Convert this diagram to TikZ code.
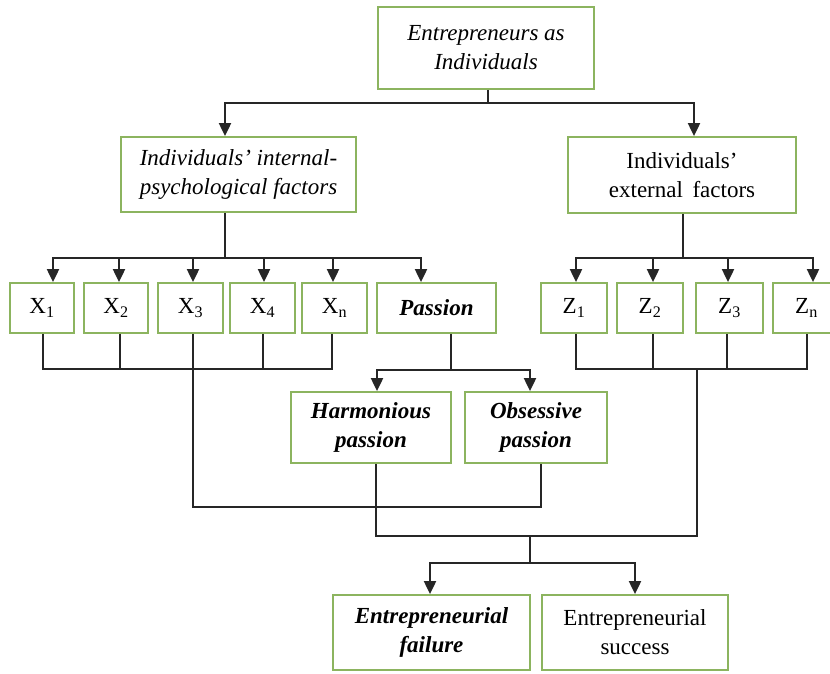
\documentclass[tikz,border=0pt]{standalone}
\usepackage{fontspec}
\setmainfont{Liberation Serif}
\usetikzlibrary{arrows.meta}
\definecolor{boxgreen}{RGB}{140,180,95}
\newcommand\boxfont{\fontsize{23}{29}\selectfont}
\tikzset{
  box/.style={draw=boxgreen,line width=1.8pt,fill=white,inner sep=0pt,align=center,font=\boxfont},
  itbox/.style={box,font=\boxfont\itshape},
  bibox/.style={box,font=\boxfont\bfseries\itshape},
  link/.style={line width=2pt,draw=black!85},
  arr/.style={link,-{Triangle[length=13pt,width=12pt]}}
}
\begin{document}
\begin{tikzpicture}[x=1pt,y=-1pt]
\clip (0,0) rectangle (830,673);
\node[itbox,minimum width=216pt,minimum height=82pt] (top) at (486,48) {Entrepreneurs as\\Individuals};
\node[itbox,minimum width=235pt,minimum height=75pt] (int) at (238.5,174.5) {Individuals’ internal-\\psychological factors};
\node[box,minimum width=228pt,minimum height=76pt] (ext) at (682,175) {Individuals’\\external\, factors};
\node[box,minimum width=64pt,minimum height=50pt] (X1) at (42,308) {X\textsubscript{1}};
\node[box,minimum width=64pt,minimum height=50pt] (X2) at (116,308) {X\textsubscript{2}};
\node[box,minimum width=65pt,minimum height=50pt] (X3) at (190.5,308) {X\textsubscript{3}};
\node[box,minimum width=65pt,minimum height=50pt] (X4) at (262.5,308) {X\textsubscript{4}};
\node[box,minimum width=65pt,minimum height=50pt] (Xn) at (334.5,308) {X\textsubscript{n}};
\node[bibox,minimum width=119pt,minimum height=50pt] (pas) at (436.5,308) {Passion};
\node[box,minimum width=66pt,minimum height=50pt] (Z1) at (574,308) {Z\textsubscript{1}};
\node[box,minimum width=66pt,minimum height=50pt] (Z2) at (650,308) {Z\textsubscript{2}};
\node[box,minimum width=67pt,minimum height=50pt] (Z3) at (729.5,308) {Z\textsubscript{3}};
\node[box,minimum width=67pt,minimum height=50pt] (Zn) at (806.5,308) {Z\textsubscript{n}};
\node[bibox,minimum width=160pt,minimum height=71pt] (harm) at (371,427.5) {Harmonious\\passion};
\node[bibox,minimum width=142pt,minimum height=71pt] (obs) at (536,427.5) {Obsessive\\passion};
\node[bibox,minimum width=197pt,minimum height=75pt] (fail) at (431.5,632.5) {Entrepreneurial\\failure};
\node[box,minimum width=186pt,minimum height=75pt] (succ) at (635,632.5) {Entrepreneurial\\success};

\draw[link] ([xshift=2pt]top.south) -- ++(0,13) coordinate (j1);
\draw[arr] (j1) -| ([xshift=-13.5pt]int.north);
\draw[arr] (j1) -| ([xshift=12pt]ext.north);

\draw[link] ([xshift=-13.5pt]int.south) -- ++(0,45) coordinate (j2);
\foreach \n/\dx in {X1/11,X2/3,X3/2.5,X4/1.5,Xn/-1.5,pas/-15.5}
  \draw[arr] (j2) -| ([xshift=\dx pt]\n.north);
\draw[link] ([xshift=1pt]ext.south) -- ++(0,44) coordinate (j3);
\foreach \n/\dx in {Z1/2,Z2/3,Z3/-1.5,Zn/6.5}
  \draw[arr] (j3) -| ([xshift=\dx pt]\n.north);

\draw[link] ([xshift=1pt]X1.south) -- ++(0,35) coordinate (j4) -| ([xshift=-2.5pt]Xn.south);
\foreach \n/\dx in {X2/4,X4/0.5}
  \draw[link] ([xshift=\dx pt]\n.south) -- ([xshift=\dx pt]\n.south |- j4);

\draw[link] ([xshift=14.5pt]pas.south) -- ++(0,36) coordinate (j5);
\draw[arr] (j5) -| ([xshift=6pt]harm.north);
\draw[arr] (j5) -| ([xshift=-6pt]obs.north);

\draw[link] ([xshift=2.5pt]X3.south) -- ++(0,173) -| ([xshift=5pt]obs.south);

\draw[link] ([xshift=2pt]Z1.south) -- ++(0,35) coordinate (j6) -| ([xshift=0.5pt]Zn.south);
\foreach \n/\dx in {Z2/3,Z3/-2.5}
  \draw[link] ([xshift=\dx pt]\n.south) -- ([xshift=\dx pt]\n.south |- j6);

\draw[link] ([xshift=121pt]j6) -- ++(0,167) coordinate (j7) -| ([xshift=5pt]harm.south);
\draw[link] ([xshift=-167pt]j7) -- ++(0,27) coordinate (j8);
\draw[arr] (j8) -| ([xshift=-1.5pt]fail.north);
\draw[arr] (j8) -| (succ.north);
\end{tikzpicture}
\end{document}
